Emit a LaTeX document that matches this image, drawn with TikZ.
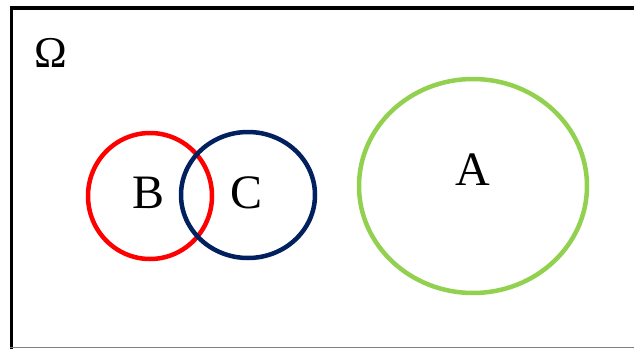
\documentclass[tikz,border=0pt]{standalone}
\usepackage{fontspec}
\setmainfont{Liberation Serif}
\definecolor{cred}{RGB}{255,0,0}
\definecolor{cnavy}{RGB}{0,32,96}
\definecolor{cgreen}{RGB}{146,208,80}
\begin{document}
\begin{tikzpicture}[x=1pt,y=-1pt,
  lbl/.style={font=\fontsize{48}{48}\selectfont, inner sep=0pt}]
\useasboundingbox (0,0) rectangle (634,348);
\coordinate (tl) at (11.5,8);
\coordinate (tr) at (634,8);
\coordinate (bl) at (11.5,348);
\coordinate (bl2) at (10,347.5);
\coordinate (br) at (634,347.5);
\draw[line width=3.8pt, line cap=rect] (bl) -- (tl) -- (tr);
\draw[gray, line width=1pt] (bl2) -- (br);
\draw[cred, line width=4.5pt] (150,196) ellipse [x radius=62, y radius=63];
\draw[cnavy, line width=4.5pt] (248,195) ellipse [x radius=67, y radius=63];
\draw[cgreen, line width=4.5pt] (473,186) ellipse [x radius=114, y radius=107];
\node[lbl, font=\fontsize{44}{44}\selectfont] (om) at (50.5,52.5) {Ω};
\node[lbl] (b) at (149,193) {B};
\node[lbl] (c) at (247,193) {C};
\node[lbl] (a) at (473,169.5) {A};
\end{tikzpicture}
\end{document}
